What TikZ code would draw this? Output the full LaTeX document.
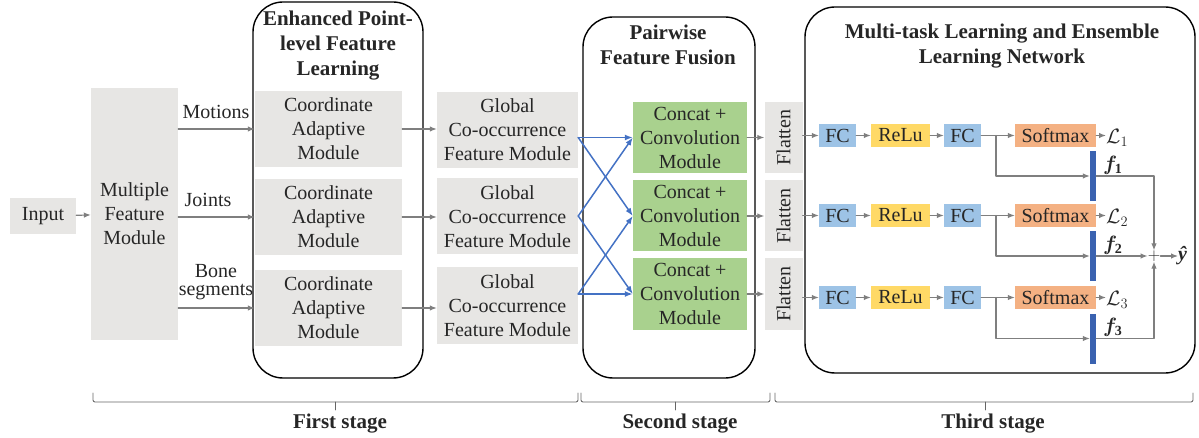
\documentclass[tikz,border=0pt]{standalone}
\usepackage{bm}
\usepackage{fontspec}
\setmainfont{Liberation Serif}
\usetikzlibrary{arrows.meta}
\definecolor{boxgray}{HTML}{E7E6E4}
\definecolor{convgreen}{HTML}{A9D18E}
\definecolor{fcblue}{HTML}{9DC3E6}
\definecolor{reluyellow}{HTML}{FFD966}
\definecolor{softorange}{HTML}{F4B183}
\definecolor{barblue}{HTML}{3A62B0}
\definecolor{arrowgray}{HTML}{7F7F7F}
\definecolor{crossblue}{HTML}{4472C4}
\definecolor{txtgray}{HTML}{262626}
\tikzset{
  block/.style={fill=boxgray,text=txtgray,align=center,inner sep=0pt},
  unit/.style={block,minimum height=23pt},
  stagebox/.style={line width=1.4pt,rounded corners=30pt},
  headline/.style={font=\bfseries\fontsize{21}{25}\selectfont,align=center,text=txtgray},
  garrow/.style={arrowgray,line width=1.2pt,-{Latex[length=7pt,width=5.5pt]}},
  barrow/.style={crossblue,line width=1.5pt,-{Latex[length=8pt,width=6pt]}},
  gline/.style={arrowgray,line width=1.2pt},
  fbar/.style={fill=barblue,inner sep=0pt,minimum width=6pt,minimum height=50pt},
  bracket/.style={arrowgray!80!black,line width=0.9pt,rounded corners=2pt}
}
\begin{document}
\begin{tikzpicture}[x=1pt,y=-1pt,line cap=round,line join=round,
  font=\fontsize{20}{24}\selectfont,text=txtgray]
  \useasboundingbox (0,0) rectangle (1199,438);
  % stage frames
  \draw[stagebox] (253,2) rectangle (423,378);
  \draw[stagebox] (583,17) rectangle (755,378);
  \draw[stagebox] (805,7) rectangle (1195,373);
  \node[headline] (head1) at (338,46) {Enhanced Point-\\level Feature\\Learning};
  \node[headline] (head2) at (668,45) {Pairwise\\Feature Fusion};
  \node[headline] (head3) at (1002,46) {Multi-task Learning and Ensemble\\Learning Network};
  % first stage
  \node[block,minimum width=66pt,minimum height=36pt] (input) at (43,216) {Input};
  \node[block,minimum width=87pt,minimum height=252pt] (mfm) at (134.5,214) {Multiple\\Feature\\Module};
  \foreach \i/\y/\g in {1/129/130,2/217/216.5,3/308/305.5} {
    \node[block,minimum width=147pt,minimum height=76pt] (cam\i) at (328.5,\y) {Coordinate\\Adaptive\\Module};
    \node[block,minimum width=141pt,minimum height=76pt] (gcf\i) at (507.5,\g) {Global\\Co-occurrence\\Feature Module};
    \draw[garrow] (mfm.east |- cam\i) -- (cam\i.west);
    \draw[garrow] (cam\i.east) -- (gcf\i.west |- cam\i);
  }
  \draw[garrow] (input) -- (mfm);
  \node (motions) at (216,112) {Motions};
  \node (joints) at (208,200) {Joints};
  \node[align=center,font=\fontsize{20}{18}\selectfont] (bone) at (216,282) {Bone\\segments};
  % second stage
  \foreach \i/\y in {1/137.5,2/216,3/294} {
    \node[block,fill=convgreen,minimum width=114pt,minimum height=71pt] (cc\i) at (690,\y) {Concat +\\Convolution\\Module};
    \node[block,minimum width=71pt,minimum height=38pt,rotate=90] (fl\i) at (783.5,\y) {Flatten};
    \coordinate (out\i) at (gcf\i.east |- cc\i);
    \draw[garrow] (cc\i.east) -- (fl\i.north);
  }
  \draw[barrow] (out1) -- (cc1.west);
  \draw[barrow] (out1) -- (cc2.west);
  \draw[barrow] (out2) -- (cc1.west);
  \draw[barrow] (out2) -- (cc3.west);
  \draw[barrow] (out3) -- (cc2.west);
  \draw[barrow] (out3) -- (cc3.west);
  % third stage
  \foreach \i/\y/\b in {1/135.5/176,2/215.5/256,3/297.5/338.5} {
    \node[unit,fill=fcblue,minimum width=37pt] (fca\i) at (837.5,\y) {FC};
    \node[unit,fill=reluyellow,minimum width=59pt] (relu\i) at (900.5,\y) {ReLu};
    \node[unit,fill=fcblue,minimum width=37pt] (fcb\i) at (962.5,\y) {FC};
    \node[unit,fill=softorange,minimum width=81pt] (soft\i) at (1055.5,\y) {Softmax};
    \node[anchor=west,inner sep=0pt] (loss\i) at (1106,\y+2) {$\mathcal{L}_{\i}$};
    \node[fbar] (bar\i) at (1093,\b) {};
    \node[anchor=west,inner sep=0pt] (feat\i) at (1103,\b-11) {$\bm{f}_{\mathbf{\i}}$};
    \coordinate (split\i) at (996,\y);
    \draw[garrow] (fl\i.south |- fca\i) -- (fca\i);
    \draw[garrow] (fca\i) -- (relu\i);
    \draw[garrow] (relu\i) -- (fcb\i);
    \draw[gline] (fcb\i) -- (split\i);
    \draw[garrow] (split\i) -- (soft\i);
    \draw[garrow] (split\i) |- (bar\i);
    \draw[garrow] (soft\i) -- (loss\i.west |- soft\i);
  }
  \node[inner sep=0pt,font=\fontsize{17}{17}\selectfont] (plus) at (1154,256) {$+$};
  \node[anchor=west,inner sep=0pt] (yhat) at (1178,256) {\textbf{\textit{ŷ}}};
  \draw[garrow] (bar1.east |- bar1) -| (plus.north);
  \draw[garrow] (bar2) -- (plus);
  \draw[garrow] (bar3.east |- bar3) -| (plus.south);
  \draw[garrow] (plus) -- (yhat);
  % stage brackets
  \draw[bracket] (93,393) -- (93,402) -- (578,402) -- (578,393);
  \draw[bracket] (335,402) -- (335,410);
  \draw[bracket] (581,393) -- (581,402) -- (770,402) -- (770,393);
  \draw[bracket] (675,402) -- (675,410);
  \draw[bracket] (775,393) -- (775,402) -- (1193,402) -- (1193,393);
  \draw[bracket] (985,402) -- (985,410);
  \node[headline] (first) at (340,424) {First stage};
  \node[headline] (second) at (680,424) {Second stage};
  \node[headline] (third) at (993,424) {Third stage};
\end{tikzpicture}
\end{document}
